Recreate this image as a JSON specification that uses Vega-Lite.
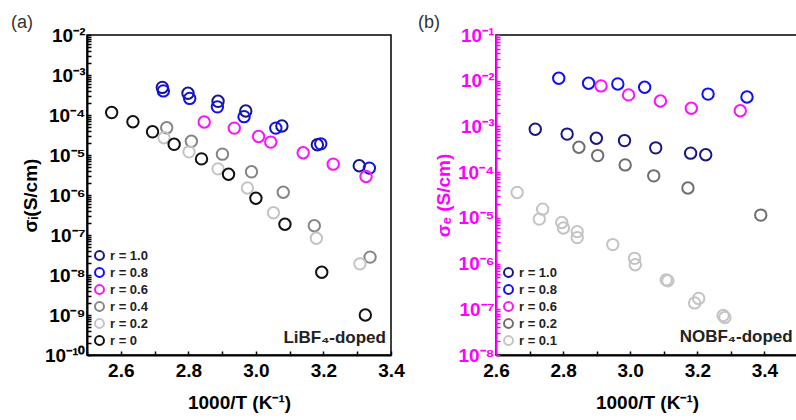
{
  "$schema": "https://vega.github.io/schema/vega-lite/v6.json",
  "padding": {"left": 10, "top": 13, "right": 0, "bottom": 0},
  "config": {
    "font": "Liberation Sans",
    "view": {"stroke": "black", "strokeWidth": 1.5},
    "axis": {"grid": false, "labelFont": "Liberation Sans", "titleFont": "Liberation Sans", "labelFontSize": 19, "labelFontWeight": "bold", "titleFontSize": 19, "titleFontWeight": "bold", "labelColor": "black", "titleColor": "black", "domainColor": "black", "tickColor": "black", "domainWidth": 2, "tickWidth": 1.5, "labelOverlap": false},
    "legend": {"labelFont": "Liberation Sans", "labelFontSize": 13, "labelFontWeight": "bold", "labelColor": "#222", "symbolType": "circle", "symbolSize": 80, "symbolStrokeWidth": 2, "rowPadding": 0, "padding": 0, "title": null}
  },
  "datasets": {
    "a": [
      {"x": 2.723, "y": 4.9e-4, "r": "r = 1.0"},
      {"x": 2.799, "y": 3.5e-4, "r": "r = 1.0"},
      {"x": 2.888, "y": 2.2e-4, "r": "r = 1.0"},
      {"x": 2.970, "y": 1.26e-4, "r": "r = 1.0"},
      {"x": 3.077, "y": 5.3e-5, "r": "r = 1.0"},
      {"x": 3.182, "y": 1.8e-5, "r": "r = 1.0"},
      {"x": 3.306, "y": 5.4e-6, "r": "r = 1.0"},
      {"x": 2.726, "y": 4.0e-4, "r": "r = 0.8"},
      {"x": 2.804, "y": 2.6e-4, "r": "r = 0.8"},
      {"x": 2.886, "y": 1.6e-4, "r": "r = 0.8"},
      {"x": 2.965, "y": 9.1e-5, "r": "r = 0.8"},
      {"x": 3.059, "y": 4.7e-5, "r": "r = 0.8"},
      {"x": 3.192, "y": 1.9e-5, "r": "r = 0.8"},
      {"x": 3.336, "y": 4.7e-6, "r": "r = 0.8"},
      {"x": 2.847, "y": 6.7e-5, "r": "r = 0.6"},
      {"x": 2.936, "y": 4.7e-5, "r": "r = 0.6"},
      {"x": 3.008, "y": 2.9e-5, "r": "r = 0.6"},
      {"x": 3.044, "y": 2.1e-5, "r": "r = 0.6"},
      {"x": 3.140, "y": 1.14e-5, "r": "r = 0.6"},
      {"x": 3.229, "y": 5.9e-6, "r": "r = 0.6"},
      {"x": 3.326, "y": 2.9e-6, "r": "r = 0.6"},
      {"x": 2.736, "y": 4.8e-5, "r": "r = 0.4"},
      {"x": 2.809, "y": 2.2e-5, "r": "r = 0.4"},
      {"x": 2.901, "y": 1.05e-5, "r": "r = 0.4"},
      {"x": 2.987, "y": 3.8e-6, "r": "r = 0.4"},
      {"x": 3.081, "y": 1.17e-6, "r": "r = 0.4"},
      {"x": 3.173, "y": 1.7e-7, "r": "r = 0.4"},
      {"x": 3.338, "y": 2.8e-8, "r": "r = 0.4"},
      {"x": 2.728, "y": 2.7e-5, "r": "r = 0.2"},
      {"x": 2.802, "y": 1.2e-5, "r": "r = 0.2"},
      {"x": 2.888, "y": 4.5e-6, "r": "r = 0.2"},
      {"x": 2.975, "y": 1.5e-6, "r": "r = 0.2"},
      {"x": 3.052, "y": 3.6e-7, "r": "r = 0.2"},
      {"x": 3.179, "y": 8.3e-8, "r": "r = 0.2"},
      {"x": 3.308, "y": 1.9e-8, "r": "r = 0.2"},
      {"x": 2.573, "y": 1.15e-4, "r": "r = 0"},
      {"x": 2.636, "y": 6.8e-5, "r": "r = 0"},
      {"x": 2.694, "y": 3.8e-5, "r": "r = 0"},
      {"x": 2.758, "y": 1.85e-5, "r": "r = 0"},
      {"x": 2.839, "y": 8.0e-6, "r": "r = 0"},
      {"x": 2.919, "y": 3.3e-6, "r": "r = 0"},
      {"x": 3.000, "y": 8.3e-7, "r": "r = 0"},
      {"x": 3.086, "y": 1.86e-7, "r": "r = 0"},
      {"x": 3.195, "y": 1.17e-8, "r": "r = 0"},
      {"x": 3.324, "y": 1.0e-9, "r": "r = 0"}
    ],
    "b": [
      {"x": 2.717, "y": 8.7e-4, "r": "r = 1.0"},
      {"x": 2.812, "y": 6.8e-4, "r": "r = 1.0"},
      {"x": 2.899, "y": 5.5e-4, "r": "r = 1.0"},
      {"x": 2.983, "y": 4.9e-4, "r": "r = 1.0"},
      {"x": 3.076, "y": 3.4e-4, "r": "r = 1.0"},
      {"x": 3.180, "y": 2.6e-4, "r": "r = 1.0"},
      {"x": 3.225, "y": 2.4e-4, "r": "r = 1.0"},
      {"x": 2.787, "y": 1.13e-2, "r": "r = 0.8"},
      {"x": 2.876, "y": 8.8e-3, "r": "r = 0.8"},
      {"x": 2.963, "y": 8.5e-3, "r": "r = 0.8"},
      {"x": 3.043, "y": 7.2e-3, "r": "r = 0.8"},
      {"x": 3.232, "y": 5.1e-3, "r": "r = 0.8"},
      {"x": 3.348, "y": 4.4e-3, "r": "r = 0.8"},
      {"x": 2.913, "y": 7.7e-3, "r": "r = 0.6"},
      {"x": 2.995, "y": 4.9e-3, "r": "r = 0.6"},
      {"x": 3.090, "y": 3.6e-3, "r": "r = 0.6"},
      {"x": 3.182, "y": 2.5e-3, "r": "r = 0.6"},
      {"x": 3.328, "y": 2.2e-3, "r": "r = 0.6"},
      {"x": 2.847, "y": 3.5e-4, "r": "r = 0.2"},
      {"x": 2.903, "y": 2.3e-4, "r": "r = 0.2"},
      {"x": 2.985, "y": 1.44e-4, "r": "r = 0.2"},
      {"x": 3.070, "y": 8.3e-5, "r": "r = 0.2"},
      {"x": 3.172, "y": 4.5e-5, "r": "r = 0.2"},
      {"x": 3.389, "y": 1.15e-5, "r": "r = 0.2"},
      {"x": 2.663, "y": 3.6e-5, "r": "r = 0.1"},
      {"x": 2.739, "y": 1.55e-5, "r": "r = 0.1"},
      {"x": 2.729, "y": 9.4e-6, "r": "r = 0.1"},
      {"x": 2.796, "y": 7.9e-6, "r": "r = 0.1"},
      {"x": 2.801, "y": 6.0e-6, "r": "r = 0.1"},
      {"x": 2.842, "y": 5.0e-6, "r": "r = 0.1"},
      {"x": 2.842, "y": 3.7e-6, "r": "r = 0.1"},
      {"x": 2.948, "y": 2.6e-6, "r": "r = 0.1"},
      {"x": 3.013, "y": 1.3e-6, "r": "r = 0.1"},
      {"x": 3.015, "y": 9.4e-7, "r": "r = 0.1"},
      {"x": 3.107, "y": 4.4e-7, "r": "r = 0.1"},
      {"x": 3.112, "y": 4.2e-7, "r": "r = 0.1"},
      {"x": 3.204, "y": 1.73e-7, "r": "r = 0.1"},
      {"x": 3.192, "y": 1.38e-7, "r": "r = 0.1"},
      {"x": 3.277, "y": 7.3e-8, "r": "r = 0.1"},
      {"x": 3.282, "y": 6.6e-8, "r": "r = 0.1"}
    ]
  },
  "hconcat": [
    {
      "width": 304,
      "height": 320,
      "title": {"text": "(a)", "anchor": "start", "frame": "group", "dx": -76, "fontSize": 18, "fontWeight": "normal", "color": "#333", "font": "Liberation Sans", "offset": -6},
      "layer": [
        {
          "data": {"name": "a"},
          "mark": {"type": "point", "filled": false, "size": 130, "strokeWidth": 2, "opacity": 1},
          "encoding": {
            "x": {"field": "x", "type": "quantitative", "scale": {"domain": [2.5, 3.4], "nice": false, "zero": false},
              "axis": {"title": "1000/T (K⁻¹)", "values": [2.5, 2.6, 2.7, 2.8, 2.9, 3.0, 3.1, 3.2, 3.3, 3.4], "labelExpr": "indexof(['2.6','2.8','3.0','3.2','3.4'], format(datum.value, '.1f')) >= 0 ? format(datum.value, '.1f') : ''", "labelFlush": false, "labelOverlap": false, "tickSize": -4, "labelPadding": 10, "titlePadding": 13}},
            "y": {"field": "y", "type": "quantitative", "scale": {"type": "log", "domain": [1e-10, 1e-2], "nice": false},
              "axis": {"title": "σᵢ(S/cm)", "values": [1e-10, 2e-10, 3e-10, 4e-10, 5e-10, 6e-10, 7e-10, 8e-10, 9e-10, 1e-9, 2e-9, 3e-9, 4e-9, 5e-9, 6e-9, 7e-9, 8e-9, 9e-9, 1e-8, 2e-8, 3e-8, 4e-8, 5e-8, 6e-8, 7e-8, 8e-8, 9e-8, 1e-7, 2e-7, 3e-7, 4e-7, 5e-7, 6e-7, 7e-7, 8e-7, 9e-7, 1e-6, 2e-6, 3e-6, 4e-6, 5e-6, 6e-6, 7e-6, 8e-6, 9e-6, 1e-5, 2e-5, 3e-5, 4e-5, 5e-5, 6e-5, 7e-5, 8e-5, 9e-5, 1e-4, 2e-4, 3e-4, 4e-4, 5e-4, 6e-4, 7e-4, 8e-4, 9e-4, 1e-3, 2e-3, 3e-3, 4e-3, 5e-3, 6e-3, 7e-3, 8e-3, 9e-3, 1e-2],
                "labelExpr": "abs(log(datum.value)/LN10 - round(log(datum.value)/LN10)) < 0.001 ? '10' + replace(replace(replace(replace(replace(replace(replace(replace(replace(replace(replace('' + round(log(datum.value)/LN10), '-', '⁻'), '0', '⁰'), '1', '¹'), '2', '²'), '3', '³'), '4', '⁴'), '5', '⁵'), '6', '⁶'), '7', '⁷'), '8', '⁸'), '9', '⁹') : ''",
                "tickSize": -4, "labelPadding": 6, "titlePadding": 4}},
            "color": {"field": "r", "type": "nominal",
              "scale": {"domain": ["r = 1.0", "r = 0.8", "r = 0.6", "r = 0.4", "r = 0.2", "r = 0"], "range": ["#16168a", "#1010f0", "#ff10ff", "#858585", "#c4c4c4", "#111111"]},
              "legend": {"orient": "bottom-left", "offset": 6}}
          }
        },
        {
          "data": {"values": [{"label": "LiBF₄-doped"}]},
          "mark": {"type": "text", "align": "right", "baseline": "middle", "fontSize": 17, "fontWeight": "bold", "font": "Liberation Sans", "color": "#222"},
          "encoding": {
            "x": {"datum": 3.385, "type": "quantitative",
              "axis": {"title": "1000/T (K⁻¹)", "values": [2.5, 2.6, 2.7, 2.8, 2.9, 3.0, 3.1, 3.2, 3.3, 3.4], "labelExpr": "indexof(['2.6','2.8','3.0','3.2','3.4'], format(datum.value, '.1f')) >= 0 ? format(datum.value, '.1f') : ''", "labelFlush": false, "labelOverlap": false, "tickSize": -4, "labelPadding": 10, "titlePadding": 13}},
            "y": {"datum": 2.7e-10, "type": "quantitative"},
            "text": {"field": "label"}}
        }
      ]
    },
    {
      "width": 302,
      "height": 320,
      "title": {"text": "(b)", "anchor": "start", "frame": "group", "dx": -78, "fontSize": 18, "fontWeight": "normal", "color": "#333", "font": "Liberation Sans", "offset": -6},
      "layer": [
        {
          "data": {"name": "b"},
          "mark": {"type": "point", "filled": false, "size": 130, "strokeWidth": 2, "opacity": 1},
          "encoding": {
            "x": {"field": "x", "type": "quantitative", "scale": {"domain": [2.6, 3.5], "nice": false, "zero": false},
              "axis": {"title": "1000/T (K⁻¹)", "values": [2.6, 2.7, 2.8, 2.9, 3.0, 3.1, 3.2, 3.3, 3.4, 3.5], "labelExpr": "indexof(['2.6','2.8','3.0','3.2','3.4'], format(datum.value, '.1f')) >= 0 ? format(datum.value, '.1f') : ''", "labelFlush": false, "labelOverlap": false, "tickSize": -4, "labelPadding": 10, "titlePadding": 13}},
            "y": {"field": "y", "type": "quantitative", "scale": {"type": "log", "domain": [1e-8, 1e-1], "nice": false},
              "axis": {"title": "σₑ (S/cm)", "titleColor": "#ff00ff", "labelColor": "#ff00ff", "domainColor": "#ff00ff", "tickColor": "#ff00ff",
                "values": [1e-8, 2e-8, 3e-8, 4e-8, 5e-8, 6e-8, 7e-8, 8e-8, 9e-8, 1e-7, 2e-7, 3e-7, 4e-7, 5e-7, 6e-7, 7e-7, 8e-7, 9e-7, 1e-6, 2e-6, 3e-6, 4e-6, 5e-6, 6e-6, 7e-6, 8e-6, 9e-6, 1e-5, 2e-5, 3e-5, 4e-5, 5e-5, 6e-5, 7e-5, 8e-5, 9e-5, 1e-4, 2e-4, 3e-4, 4e-4, 5e-4, 6e-4, 7e-4, 8e-4, 9e-4, 1e-3, 2e-3, 3e-3, 4e-3, 5e-3, 6e-3, 7e-3, 8e-3, 9e-3, 1e-2, 2e-2, 3e-2, 4e-2, 5e-2, 6e-2, 7e-2, 8e-2, 9e-2, 1e-1],
                "labelExpr": "abs(log(datum.value)/LN10 - round(log(datum.value)/LN10)) < 0.001 ? '10' + replace(replace(replace(replace(replace(replace(replace(replace(replace(replace(replace('' + round(log(datum.value)/LN10), '-', '⁻'), '0', '⁰'), '1', '¹'), '2', '²'), '3', '³'), '4', '⁴'), '5', '⁵'), '6', '⁶'), '7', '⁷'), '8', '⁸'), '9', '⁹') : ''",
                "tickSize": -4, "labelPadding": 6, "titlePadding": 4}},
            "color": {"field": "r", "type": "nominal",
              "scale": {"domain": ["r = 1.0", "r = 0.8", "r = 0.6", "r = 0.2", "r = 0.1"], "range": ["#16168a", "#1010f0", "#ff10ff", "#6e6e6e", "#c4c4c4"]},
              "legend": {"orient": "bottom-left", "offset": 6}}
          }
        },
        {
          "data": {"values": [{"label": "NOBF₄-doped"}]},
          "mark": {"type": "text", "align": "right", "baseline": "middle", "fontSize": 17, "fontWeight": "bold", "font": "Liberation Sans", "color": "#222"},
          "encoding": {
            "x": {"datum": 3.484, "type": "quantitative",
              "axis": {"title": "1000/T (K⁻¹)", "values": [2.6, 2.7, 2.8, 2.9, 3.0, 3.1, 3.2, 3.3, 3.4, 3.5], "labelExpr": "indexof(['2.6','2.8','3.0','3.2','3.4'], format(datum.value, '.1f')) >= 0 ? format(datum.value, '.1f') : ''", "labelFlush": false, "labelOverlap": false, "tickSize": -4, "labelPadding": 10, "titlePadding": 13}},
            "y": {"datum": 2.45e-8, "type": "quantitative"},
            "text": {"field": "label"}}
        }
      ]
    }
  ],
  "spacing": 12,
  "resolve": {"scale": {"color": "independent", "x": "independent", "y": "independent"}, "legend": {"color": "independent"}}
}
